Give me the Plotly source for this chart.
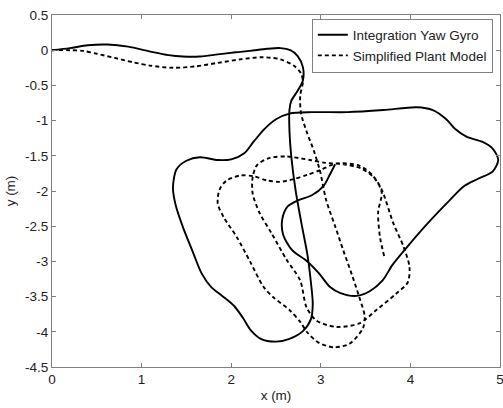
import plotly.graph_objects as go

# Integration Yaw Gyro (solid)
gyro_x = [0, 0.2, 0.4, 0.62, 0.85, 1.1, 1.3, 1.46, 1.65, 1.85, 2.05, 2.21, 2.4, 2.55, 2.66, 2.74, 2.80, 2.80, 2.74,
          2.67, 2.65, 2.65, 2.67, 2.72, 2.79, 2.85, 2.89, 2.91, 2.89, 2.80, 2.65, 2.50, 2.33, 2.22, 2.13, 2.03, 1.90,
          1.78, 1.67, 1.57, 1.46, 1.38, 1.35, 1.39, 1.50, 1.65, 1.85, 2.00, 2.15, 2.25, 2.37, 2.50, 2.65, 2.9, 3.3,
          3.7, 4.07, 4.25, 4.40, 4.50, 4.63, 4.80, 4.92, 4.98, 4.92, 4.75, 4.60, 4.44, 4.20, 3.96, 3.80, 3.69, 3.55,
          3.40, 3.22, 3.10, 2.98, 2.84, 2.68, 2.58, 2.57, 2.63, 2.75, 2.90, 3.03, 3.10, 3.16]
gyro_y = [0, 0.03, 0.07, 0.08, 0.05, -0.02, -0.07, -0.09, -0.09, -0.06, -0.03, -0.01, 0.02, 0.03, 0.0, -0.08, -0.24,
          -0.43, -0.58, -0.72, -0.85, -1.14, -1.5, -2.0, -2.5, -2.9, -3.3, -3.6, -3.82, -3.99, -4.10, -4.14, -4.10,
          -3.98, -3.80, -3.63, -3.49, -3.37, -3.17, -2.86, -2.51, -2.2, -1.95, -1.69, -1.57, -1.52, -1.56, -1.55,
          -1.46, -1.30, -1.12, -0.98, -0.90, -0.88, -0.88, -0.85, -0.81, -0.85, -0.98, -1.12, -1.23, -1.30, -1.40,
          -1.56, -1.72, -1.83, -1.93, -2.13, -2.45, -2.80, -3.05, -3.27, -3.42, -3.49, -3.45, -3.36, -3.17, -2.99,
          -2.84, -2.62, -2.40, -2.22, -2.13, -2.06, -1.93, -1.77, -1.62]

# Simplified Plant Model (dashed)
model_x = [0, 0.2, 0.35, 0.5, 0.7, 0.9, 1.1, 1.35, 1.6, 1.85, 2.1, 2.35, 2.55, 2.70, 2.78, 2.80, 2.77, 2.78, 2.84,
           2.92, 2.99, 3.06, 3.16, 3.25, 3.35, 3.43, 3.49, 3.47, 3.32, 3.14, 2.97, 2.85, 2.77, 2.65, 2.47, 2.36,
           2.21, 2.06, 1.92, 1.85, 1.87, 1.95, 2.10, 2.25, 2.40, 2.54, 2.70, 2.85, 3.0, 3.17, 3.43, 3.58, 3.68,
           3.81, 3.92, 3.99, 3.97, 3.84, 3.62, 3.43, 3.17, 2.95, 2.84, 2.77, 2.62, 2.45, 2.32, 2.24, 2.24, 2.29,
           2.43, 2.62, 2.88, 3.05, 3.25, 3.45, 3.60, 3.68, 3.64, 3.66, 3.71]
model_y = [0, 0.0, -0.01, -0.05, -0.11, -0.17, -0.22, -0.25, -0.23, -0.18, -0.13, -0.10, -0.13, -0.22, -0.33,
           -0.45, -0.65, -0.90, -1.15, -1.42, -1.71, -2.13, -2.50, -2.84, -3.2, -3.51, -3.78, -3.95, -4.17, -4.22,
           -4.15, -4.01, -3.86, -3.69, -3.51, -3.36, -3.0, -2.65, -2.38, -2.18, -1.98, -1.85, -1.78, -1.79, -1.85,
           -1.87, -1.83, -1.77, -1.70, -1.61, -1.64, -1.78, -1.98, -2.46, -2.78, -3.08, -3.30, -3.46, -3.69, -3.88,
           -3.93, -3.84, -3.65, -3.27, -2.98, -2.6, -2.32, -2.04, -1.80, -1.63, -1.53, -1.51, -1.56, -1.60, -1.62,
           -1.68, -1.82, -2.02, -2.30, -2.65, -2.94]

x_ticks = [0, 1, 2, 3, 4, 5]
y_ticks = [0.5, 0, -0.5, -1, -1.5, -2, -2.5, -3, -3.5, -4, -4.5]

font = "Liberation Sans, Arial, sans-serif"

fig = go.Figure()
fig.add_trace(go.Scatter(x=gyro_x, y=gyro_y, mode="lines", name="Integration Yaw Gyro",
                         line=dict(color="black", width=1.9, shape="spline", smoothing=0.8)))
fig.add_trace(go.Scatter(x=model_x, y=model_y, mode="lines", name="Simplified Plant Model",
                         line=dict(color="black", width=1.9, dash="4px,3px", shape="spline", smoothing=0.8)))

axis_common = dict(showgrid=False, zeroline=False, showline=True, linecolor="#808080", linewidth=1,
                   mirror="allticks", ticks="inside", ticklen=4, tickcolor="#808080",
                   ticklabeloverflow="allow",
                   tickfont=dict(family=font, size=13.5, color="#222222"))

fig.update_layout(
    width=503, height=408,
    margin=dict(l=52, r=3, t=15, b=41),
    paper_bgcolor="white", plot_bgcolor="white",
    font=dict(family=font, size=13.5, color="#222222"),
    xaxis=dict(range=[0, 5], tickvals=x_ticks, ticktext=[f"{v:g}" for v in x_ticks],
               title=dict(text="x (m)", standoff=4, font=dict(family=font, size=13.5)), automargin=False,
               **axis_common),
    yaxis=dict(range=[-4.5, 0.5], tickvals=y_ticks, ticktext=[f"{v:g}" for v in y_ticks],
               title=dict(text="y (m)", standoff=6, font=dict(family=font, size=13.5)), automargin=False,
               **axis_common),
    legend=dict(x=0.984, y=0.99, xanchor="right", yanchor="top", bgcolor="white",
                bordercolor="#808080", borderwidth=1, font=dict(family=font, size=13.5, color="#222222"),
                tracegroupgap=0, itemwidth=30),
    showlegend=True,
)

fig.write_html("out.html")
